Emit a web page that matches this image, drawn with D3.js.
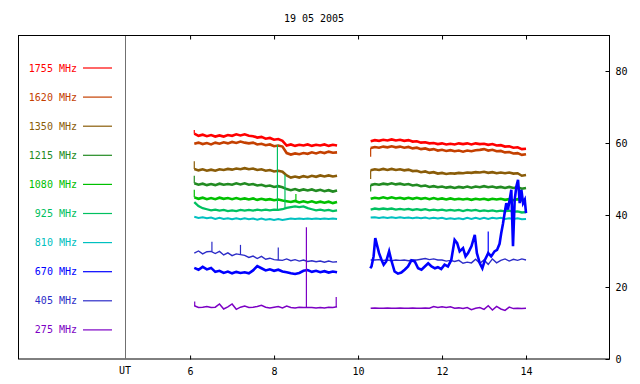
<!DOCTYPE html>
<html><head><meta charset="utf-8">
<script src="https://cdn.jsdelivr.net/npm/d3@7/dist/d3.min.js"></script>
<style>
html,body{margin:0;padding:0;background:#fff;}
svg{display:block;}
text{font-family:"DejaVu Sans Mono",monospace;font-size:10px;}
</style></head>
<body><svg id="c" width="640" height="384"></svg>
<script>
const title = "19 05 2005";
const xTicks = [6, 8, 10, 12, 14];
const yTicks = [0, 20, 40, 60, 80];
const labels = ["1755 MHz","1620 MHz","1350 MHz","1215 MHz","1080 MHz","925 MHz","810 MHz","670 MHz","405 MHz","275 MHz"];
const colors = ["#ff0000","#c44000","#8a5c08","#228b22","#00c000","#00c060","#00c0c0","#0000ff","#2c2cc8","#7c00c4"];

const hoursA = [6.1,6.2,6.3,6.4,6.5,6.6,6.7,6.8,6.9,7.0,7.1,7.2,7.3,7.4,7.5,7.6,7.7,7.8,7.9,8.0,8.1,8.2,8.3,8.4,8.5,8.6,8.7,8.8,8.9,9.0,9.1,9.2,9.3,9.4,9.5];
const hoursB = [10.3,10.4,10.5,10.6,10.7,10.8,10.9,11.0,11.1,11.2,11.3,11.4,11.5,11.6,11.7,11.8,11.9,12.0,12.1,12.2,12.3,12.4,12.5,12.6,12.7,12.8,12.9,13.0,13.1,13.2,13.3,13.4,13.5,13.6,13.7,13.8,13.9,14.0];

const f1755A = [62.6,62.0,62.3,61.9,62.2,61.8,62.1,61.8,62.2,62.0,62.4,62.1,62.4,62.0,61.9,61.5,61.7,61.2,61.4,60.9,61.1,60.6,59.3,59.6,59.2,59.5,59.3,59.6,59.2,59.5,59.3,59.6,59.2,59.5,59.3];
const f1755B = [60.5,60.8,60.6,60.9,60.7,61.0,60.7,60.9,60.6,60.8,60.4,60.5,60.1,60.2,59.9,60.0,59.7,59.9,59.6,59.8,59.6,59.9,59.7,59.9,59.6,59.9,59.7,59.8,59.5,59.7,59.3,59.4,59.0,59.1,58.7,58.8,58.3,58.4];
const f1620A = [59.8,60.1,59.7,60.0,59.6,60.1,59.8,60.2,59.9,60.3,60.0,60.4,60.1,59.9,60.1,59.6,59.8,59.4,59.6,59.1,59.3,59.0,57.2,56.8,57.1,56.9,57.2,57.0,57.4,57.1,57.5,57.2,57.6,57.3,57.4];
const f1620B = [58.6,58.9,58.7,59.0,58.8,59.1,58.8,59.0,58.7,58.9,58.5,58.7,58.3,58.5,58.1,58.3,57.9,58.1,57.8,58.0,57.7,57.9,57.6,57.9,57.7,58.0,58.1,58.3,57.9,58.1,57.7,57.8,57.4,57.5,57.1,57.2,56.7,56.9];
const f1350A = [52.8,52.4,52.7,52.3,52.6,52.3,52.7,52.5,52.8,52.6,52.9,52.7,53.0,52.7,52.9,52.5,52.7,52.3,52.5,52.1,52.3,52.0,51.0,50.4,50.7,50.4,50.8,50.5,50.9,50.6,51.0,50.7,51.0,50.7,50.9];
const f1350B = [52.4,52.7,52.5,52.8,52.5,52.8,52.5,52.7,52.4,52.6,52.2,52.3,51.9,52.1,51.7,51.9,51.5,51.7,51.4,51.6,51.5,51.7,51.6,51.8,51.7,51.9,51.8,52.0,51.7,51.9,51.6,51.8,51.6,51.8,51.5,51.6,50.9,51.1];
const f1215A = [48.8,48.4,48.7,48.3,48.6,48.3,48.7,48.4,48.6,48.4,48.8,48.5,48.8,48.4,48.6,48.2,48.4,48.0,48.2,47.8,48.0,47.7,47.2,46.9,47.2,46.8,47.1,46.8,47.1,46.7,47.0,46.6,46.9,46.5,46.8];
const f1215B = [48.3,48.6,48.4,48.7,48.5,48.8,48.5,48.7,48.4,48.6,48.2,48.4,48.0,48.2,47.8,48.0,47.7,47.9,47.6,47.8,47.5,47.8,47.6,47.9,47.6,47.9,47.7,48.0,47.7,47.9,47.6,47.8,47.5,47.8,47.5,47.7,47.3,47.5];
const f1080A = [44.9,44.5,44.8,44.4,44.7,44.4,44.8,44.5,44.7,44.4,44.7,44.4,44.6,44.3,44.6,44.2,44.5,44.2,44.4,44.1,44.3,44.0,43.8,43.6,43.9,43.5,43.8,43.5,43.8,43.4,43.7,43.4,43.7,43.3,43.6];
const f1080B = [44.5,44.8,44.6,44.9,44.6,44.9,44.6,44.8,44.5,44.8,44.5,44.8,44.5,44.7,44.4,44.7,44.4,44.6,44.3,44.6,44.3,44.5,44.3,44.5,44.2,44.5,44.3,44.5,44.2,44.5,44.3,44.5,44.2,44.4,44.1,44.4,44.1,44.2];
const f925A = [43.6,42.5,41.9,41.6,41.3,41.5,41.2,41.4,41.1,41.3,41.1,41.4,41.2,41.4,41.2,41.5,41.3,41.5,41.3,41.5,41.4,41.6,42.0,42.2,42.4,42.2,42.4,41.9,41.6,41.3,41.5,41.2,41.4,41.1,41.3];
const f925B = [41.5,41.8,41.6,41.8,41.6,41.8,41.5,41.7,41.5,41.7,41.4,41.6,41.4,41.6,41.3,41.5,41.3,41.5,41.2,41.4,41.2,41.4,41.1,41.4,41.2,41.4,41.1,41.3,41.1,41.3,41.0,41.2,41.0,41.2,40.9,41.0,40.7,40.8];
const f810A = [39.5,39.2,39.4,39.1,39.3,38.9,39.2,38.9,39.1,38.8,39.1,38.8,39.1,38.8,39.0,38.7,39.0,38.7,38.9,38.6,38.9,38.6,38.8,39.0,38.9,39.0,38.9,39.0,38.9,39.0,38.9,39.0,38.9,39.0,38.9];
const f810B = [39.3,39.4,39.2,39.4,39.2,39.4,39.2,39.4,39.2,39.3,39.1,39.3,39.1,39.3,39.0,39.2,39.0,39.2,38.9,39.1,38.9,39.1,38.8,39.2,38.9,39.2,38.9,39.2,38.9,39.2,39.0,39.2,38.9,39.1,38.9,39.1,38.8,38.9];
const f670A = [25.3,24.8,25.6,24.9,25.3,24.2,24.5,23.9,24.3,23.8,24.2,23.9,24.1,23.8,24.6,25.8,25.2,24.6,24.9,24.5,24.8,24.3,24.1,23.8,23.6,23.9,24.5,24.7,24.2,24.5,24.1,24.4,24.0,24.3,24.1];
const hours670B = [10.29,10.32,10.37,10.41,10.45,10.5,10.56,10.61,10.67,10.74,10.79,10.87,10.95,11.03,11.11,11.19,11.27,11.35,11.43,11.51,11.59,11.67,11.75,11.83,11.9,11.98,12.06,12.14,12.22,12.3,12.36,12.42,12.5,12.56,12.62,12.7,12.78,12.83,12.9,12.96,13.02,13.1,13.17,13.25,13.31,13.37,13.41,13.45,13.49,13.53,13.57,13.61,13.65,13.69,13.73,13.77,13.81,13.85,13.89,13.93,13.97,14.0];
const f670B = [25.2,25.7,28.5,33.6,31.7,29.4,27.5,26.2,27.1,29.9,27.5,24.3,23.7,24.0,24.8,25.7,27.4,27.1,25.2,24.8,25.7,26.6,25.7,25.2,25.5,25.0,26.2,25.7,27.5,33.1,32.2,29.9,30.8,28.5,29.4,31.3,34.5,29.4,26.6,25.2,27.5,29.4,28.5,29.9,30.3,32.0,35.0,37.5,40.5,43.3,41.5,44.2,47.0,31.3,44.2,47.9,49.8,43.3,47.0,43.3,44.2,40.5];
const f405A = [29.4,30.0,29.2,29.8,29.9,29.3,29.9,28.9,29.5,28.7,29.2,29.0,28.8,28.2,28.6,27.9,28.5,27.7,28.0,27.6,27.5,27.4,27.8,27.3,27.6,27.2,27.5,27.1,27.3,27.0,27.2,26.9,27.2,26.9,27.0];
const f405B = [27.5,27.5,27.6,27.4,27.5,27.3,27.5,27.4,27.5,27.3,27.5,27.5,27.7,27.9,27.6,27.8,27.5,27.5,27.2,27.4,27.1,27.4,26.6,26.9,26.7,27.7,26.6,27.5,26.3,27.8,26.7,27.4,27.8,27.2,27.7,27.4,27.8,27.5];
const f275A = [14.8,14.3,14.4,14.6,14.3,14.4,15.3,13.9,14.5,15.3,13.8,14.4,14.7,14.3,14.4,14.6,14.9,14.4,14.2,14.4,14.6,14.2,14.7,14.3,14.2,14.4,14.3,14.3,14.3,14.2,14.3,14.2,14.4,14.3,14.5];
const f275B = [14.1,14.2,14.1,14.1,14.2,14.1,14.1,14.2,14.1,14.1,14.2,14.1,14.1,14.2,14.1,14.6,14.3,14.5,14.3,14.5,14.1,14.2,14.0,14.3,13.7,14.1,14.3,13.8,14.8,13.6,14.6,13.9,13.5,14.4,14.0,14.1,14.0,14.1];

// short spikes: series index, hour, peak value
const spikeSeries = [5, 5, 9, 9, 9, 8, 8, 8, 7, 0, 2, 3, 4, 1, 2, 3, 4];
const spikeHours  = [8.08, 8.26, 8.77, 9.48, 6.11, 6.52, 7.2, 8.1, 13.1, 6.1, 6.1, 6.1, 6.1, 10.3, 10.3, 10.3, 8.52];
const spikeValues = [59.5, 51.2, 36.6, 17.2, 16.0, 32.6, 31.7, 31.0, 35.4, 63.6, 54.9, 50.9, 47.0, 56.2, 50.0, 46.5, 45.8];

const seriesA = [f1755A,f1620A,f1350A,f1215A,f1080A,f925A,f810A,f670A,f405A,f275A];
const seriesB = [f1755B,f1620B,f1350B,f1215B,f1080B,f925B,f810B,f670B,f405B,f275B];
const widths  = [2.6,2.6,2.6,2.6,2.6,2.3,2.0,2.6,1.4,1.5];

const svg = d3.select("#c");
const x = d3.scaleLinear().domain([4.45, 16]).range([125, 610]);
const y = d3.scaleLinear().domain([0, 90]).range([359, 35]);

// frame
svg.append("rect").attr("x", 18.5).attr("y", 35.5).attr("width", 591).attr("height", 323.5)
  .attr("fill", "none").attr("stroke", "#000").attr("stroke-width", 1);
svg.append("line").attr("x1", 125.5).attr("x2", 125.5).attr("y1", 36).attr("y2", 359)
  .attr("stroke", "#707070").attr("stroke-width", 1);

// axes
const gb = svg.append("g").attr("transform", "translate(0,359.5)")
  .call(d3.axisBottom(x).tickValues(xTicks).tickSizeInner(-4).tickSizeOuter(0).tickPadding(8).tickFormat(d3.format("d")));
const gt = svg.append("g").attr("transform", "translate(0,35.5)")
  .call(d3.axisTop(x).tickValues(xTicks).tickSizeInner(-4).tickSizeOuter(0).tickFormat(""));
const gr = svg.append("g").attr("transform", "translate(609.5,0)")
  .call(d3.axisRight(y).tickValues(yTicks).tickSizeInner(-4).tickSizeOuter(0).tickPadding(6).tickFormat(d3.format("d")));
[gb, gt, gr].forEach(g => {
  g.select(".domain").remove();
  g.selectAll("text").attr("fill", "#000").style("font-family", '"DejaVu Sans Mono",monospace').style("font-size", "10px");
  g.selectAll("line").attr("stroke", "#000");
});

svg.append("text").attr("x", 125).attr("y", 374).attr("text-anchor", "middle").text("UT");
svg.append("text").attr("x", 314).attr("y", 22).attr("text-anchor", "middle").text(title);

// legend
labels.forEach((lab, i) => {
  const ly = 68 + i * 29.1;
  svg.append("text").attr("x", 77).attr("y", ly).attr("dy", "0.35em")
    .attr("text-anchor", "end").attr("fill", colors[i]).text(lab);
  svg.append("line").attr("x1", 83).attr("x2", 112).attr("y1", ly).attr("y2", ly)
    .attr("stroke", colors[i]).attr("stroke-width", 1.2);
});

// series
const line = d3.line().x(d => x(d[0])).y(d => y(d[1]));
const segs = seriesA.map((va, i) => {
  const a = hoursA.map((h, k) => [h, va[k]]).filter(d => d[1] != null);
  const hb = i === 7 ? hours670B : hoursB;
  const b = hb.map((h, k) => [h, seriesB[i][k]]).filter(d => d[1] != null);
  return [a, b];
});

function valueAt(i, h) {
  const pts = segs[i][0].concat(segs[i][1]);
  const bis = d3.bisector(d => d[0]).left;
  let k = bis(pts, h);
  if (k <= 0) return pts[0][1];
  if (k >= pts.length) return pts[pts.length - 1][1];
  const p0 = pts[k - 1], p1 = pts[k];
  const t = (h - p0[0]) / (p1[0] - p0[0]);
  return p0[1] + t * (p1[1] - p0[1]);
}

const order = [9, 8, 6, 5, 4, 3, 2, 1, 0, 7];
order.forEach(i => {
  segs[i].forEach(s => {
    svg.append("path").attr("d", line(s)).attr("fill", "none")
      .attr("stroke", colors[i]).attr("stroke-width", widths[i]).attr("stroke-linejoin", "miter");
  });
});

spikeSeries.forEach((si, k) => {
  const h = spikeHours[k];
  svg.append("line").attr("x1", x(h)).attr("x2", x(h))
    .attr("y1", y(valueAt(si, h))).attr("y2", y(spikeValues[k]))
    .attr("stroke", colors[si]).attr("stroke-width", 1.2);
});
</script></body></html>
